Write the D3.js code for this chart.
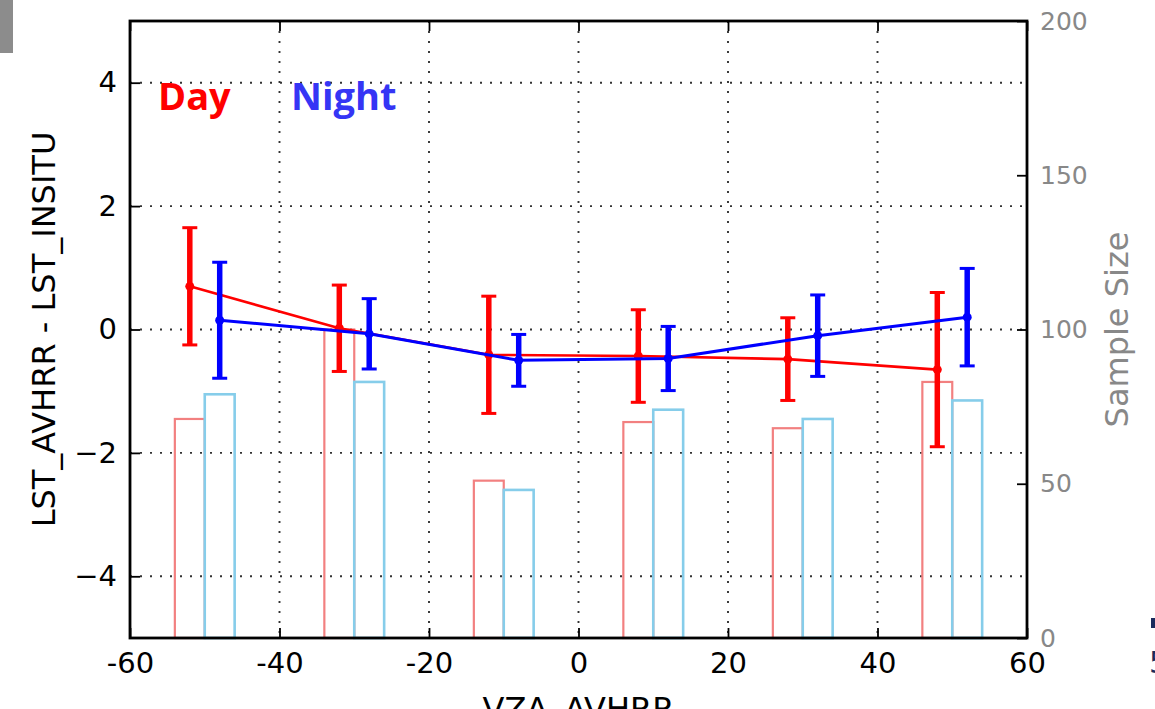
<!DOCTYPE html>
<html>
<head>
<meta charset="utf-8">
<script src="https://cdn.jsdelivr.net/npm/d3@7"></script>
<style>
  html, body { margin: 0; padding: 0; background: #fff; }
  svg { display: block; }
</style>
</head>
<body>
<svg id="chart" width="1155" height="709"></svg>
<script>
// View zenith angle bin centres (degrees) for day and night retrievals
const vzaDay   = [-52, -32, -12, 8, 28, 48];
const vzaNight = [-48, -28, -8, 12, 32, 52];

// Mean LST difference (K) and its standard deviation per bin
const biasDay   = [0.70, 0.02, -0.41, -0.43, -0.48, -0.65];
const stdDay    = [0.95, 0.70, 0.95, 0.75, 0.67, 1.25];
const biasNight = [0.15, -0.07, -0.50, -0.47, -0.10, 0.20];
const stdNight  = [0.94, 0.57, 0.42, 0.52, 0.66, 0.79];

// Number of matchups per bin
const countDay   = [71, 100, 51, 70, 68, 83];
const countNight = [79, 83, 48, 74, 71, 77];

// Axis ticks
const xTicks  = [-60, -40, -20, 0, 20, 40, 60];
const yTicks  = [-4, -2, 0, 2, 4];
const y2Ticks = [0, 50, 100, 150, 200];

const binWidth = 4;

const svg = d3.select("#chart");
const L = 130, R = 1027, T = 21, B = 638;

const x  = d3.scaleLinear().domain([-60, 60]).range([L, R]);
const y  = d3.scaleLinear().domain([-5, 5]).range([B, T]);
const y2 = d3.scaleLinear().domain([0, 200]).range([B, T]);

const font = "'DejaVu Sans', sans-serif";

// Corner tab
svg.append("rect").attr("x", 0).attr("y", 0).attr("width", 13).attr("height", 53)
  .attr("fill", "#8c8c8c");

// Dotted grid
const grid = svg.append("g").attr("stroke", "#333").attr("stroke-width", 1.9)
  .attr("stroke-dasharray", "2,8");
grid.selectAll(".gx").data(xTicks.slice(1, -1)).join("line")
  .attr("x1", d => x(d)).attr("x2", d => x(d)).attr("y1", T).attr("y2", B);
grid.selectAll(".gy").data(yTicks).join("line")
  .attr("x1", L).attr("x2", R).attr("y1", d => y(d)).attr("y2", d => y(d));

// Sample-size histogram (outlined bars on the secondary axis)
function bars(xs, counts, color, w) {
  svg.append("g").selectAll("rect").data(xs.map((v, i) => ({ v, c: counts[i] }))).join("rect")
    .attr("x", d => x(d.v - binWidth / 2))
    .attr("width", d => x(d.v + binWidth / 2) - x(d.v - binWidth / 2))
    .attr("y", d => y2(d.c))
    .attr("height", d => y2(0) - y2(d.c))
    .attr("fill", "none").attr("stroke", color).attr("stroke-width", w);
}
bars(vzaDay, countDay, "#f28080", 2.2);
bars(vzaNight, countNight, "#86cdea", 2.6);

// Mean bias with standard-deviation error bars
function series(xs, mean, sd, color, lw) {
  const g = svg.append("g");
  const pts = xs.map((v, i) => ({ v, m: mean[i], s: sd[i] }));
  g.append("path").datum(pts)
    .attr("d", d3.line().x(d => x(d.v)).y(d => y(d.m)))
    .attr("fill", "none").attr("stroke", color).attr("stroke-width", lw);
  g.selectAll(".eb").data(pts).join("line")
    .attr("x1", d => x(d.v)).attr("x2", d => x(d.v))
    .attr("y1", d => y(d.m + d.s)).attr("y2", d => y(d.m - d.s))
    .attr("stroke", color).attr("stroke-width", 5.5);
  const cap = 7.5;
  ["top", "bot"].forEach(k => {
    g.selectAll(".cap-" + k).data(pts).join("line")
      .attr("x1", d => x(d.v) - cap).attr("x2", d => x(d.v) + cap)
      .attr("y1", d => y(k === "top" ? d.m + d.s : d.m - d.s))
      .attr("y2", d => y(k === "top" ? d.m + d.s : d.m - d.s))
      .attr("stroke", color).attr("stroke-width", 3);
  });
  g.selectAll("circle").data(pts).join("circle")
    .attr("cx", d => x(d.v)).attr("cy", d => y(d.m)).attr("r", 4.5)
    .attr("fill", color);
}
series(vzaDay, biasDay, stdDay, "#ff0000", 2.6);
series(vzaNight, biasNight, stdNight, "#0000ff", 3);

// Frame
svg.append("rect").attr("x", L).attr("y", T).attr("width", R - L).attr("height", B - T)
  .attr("fill", "none").attr("stroke", "#000").attr("stroke-width", 2.8);

// Bottom axis (ticks pointing inward)
const xAxis = d3.axisBottom(x).tickValues(xTicks).tickSize(-10).tickPadding(14)
  .tickFormat(d => String(d));
const gx = svg.append("g").attr("transform", `translate(0,${B})`).call(xAxis);
gx.select(".domain").remove();
gx.selectAll(".tick line").attr("stroke", "#000").attr("stroke-width", 1.8);
gx.selectAll("text").attr("font-family", font).attr("font-size", 29).attr("fill", "#000")
  .attr("dy", "0.71em");

// Top ticks
const gxt = svg.append("g").attr("transform", `translate(0,${T})`)
  .call(d3.axisTop(x).tickValues(xTicks).tickSize(-10).tickFormat(""));
gxt.select(".domain").remove();
gxt.selectAll(".tick line").attr("stroke", "#000").attr("stroke-width", 1.8);

// Left axis
const yAxis = d3.axisLeft(y).tickValues(yTicks).tickSize(-10).tickPadding(13)
  .tickFormat(d => d < 0 ? "\u2212" + Math.abs(d) : String(d));
const gy = svg.append("g").attr("transform", `translate(${L},0)`).call(yAxis);
gy.select(".domain").remove();
gy.selectAll(".tick line").attr("stroke", "#000").attr("stroke-width", 1.8);
gy.selectAll("text").attr("font-family", font).attr("font-size", 29).attr("fill", "#000");

// Right (sample size) axis
const y2Axis = d3.axisRight(y2).tickValues(y2Ticks).tickSize(-10).tickPadding(13);
const gy2 = svg.append("g").attr("transform", `translate(${R},0)`).call(y2Axis);
gy2.select(".domain").remove();
gy2.selectAll(".tick line").attr("stroke", "#000").attr("stroke-width", 1.8);
gy2.selectAll("text").attr("font-family", font).attr("font-size", 25).attr("fill", "#888");

// Axis titles
svg.append("text").attr("transform", `translate(55,${(T + B) / 2}) rotate(-90)`)
  .attr("text-anchor", "middle").attr("font-family", font).attr("font-size", 32)
  .attr("fill", "#000").text("LST_AVHRR - LST_INSITU");
svg.append("text").attr("transform", `translate(1128,${(T + B) / 2}) rotate(-90)`)
  .attr("text-anchor", "middle").attr("font-family", font).attr("font-size", 32)
  .attr("fill", "#888").text("Sample Size");
svg.append("text").attr("x", (L + R) / 2).attr("y", 720)
  .attr("text-anchor", "middle").attr("font-family", font).attr("font-size", 32)
  .attr("fill", "#000").text("VZA_AVHRR");

// Series labels
svg.append("text").attr("x", 158).attr("y", 110).attr("font-family", "'Open Sans', sans-serif")
  .attr("font-weight", "bold").attr("font-size", 38).attr("fill", "#ff0000").text("Day");
svg.append("text").attr("x", 291).attr("y", 110).attr("font-family", "'Open Sans', sans-serif")
  .attr("font-weight", "bold").attr("font-size", 38).attr("fill", "#3535f5").text("Night");

// Edge glyphs at the right margin
svg.append("rect").attr("x", 1151).attr("y", 618).attr("width", 4).attr("height", 10)
  .attr("fill", "#1b2b5c");
svg.append("text").attr("x", 1149).attr("y", 673).attr("font-family", font)
  .attr("font-size", 30).attr("fill", "#1b2b5c").text("5");
</script>
</body>
</html>
